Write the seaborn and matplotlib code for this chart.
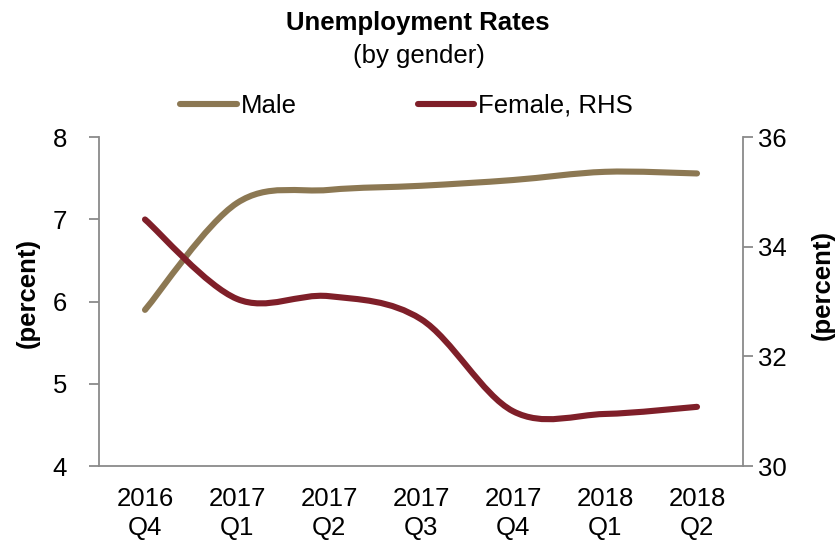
import numpy as np
import pandas as pd
import matplotlib
matplotlib.use("Agg")
import matplotlib.pyplot as plt
import seaborn as sns
from matplotlib.path import Path
from matplotlib.patches import PathPatch
from matplotlib.lines import Line2D

# ---- data ----
categories = ["2016\nQ4", "2017\nQ1", "2017\nQ2", "2017\nQ3", "2017\nQ4", "2018\nQ1", "2018\nQ2"]
male = [5.90, 7.20, 7.36, 7.41, 7.48, 7.58, 7.56]
female = [34.50, 33.05, 33.10, 32.68, 31.00, 30.95, 31.08]
left_ticks = [4, 5, 6, 7, 8]
right_ticks = [30, 32, 34, 36]

MALE_C = "#8C7853"
FEMALE_C = "#7F1F29"
AXIS_C = "#8A8A8A"
FS = 18.5

sns.set_theme(style="white")
plt.rcParams["font.family"] = ["Liberation Sans", "DejaVu Sans"]
plt.rcParams["text.color"] = "black"
plt.rcParams["xtick.labelcolor"] = "black"
plt.rcParams["ytick.labelcolor"] = "black"

df = pd.DataFrame({"cat": categories, "Male": male, "Female": female})
df["pos"] = np.arange(len(df))


def smooth_path(xs, ys):
    """Excel-like smoothed line: cubic Bezier segments through the data points."""
    xs = list(xs); ys = list(ys)
    n = len(xs)
    verts = [(xs[0], ys[0])]
    codes = [Path.MOVETO]
    for i in range(n - 1):
        i0 = max(i - 1, 0)
        i3 = min(i + 2, n - 1)
        c1 = (xs[i] + (xs[i + 1] - xs[i0]) / 6.0, ys[i] + (ys[i + 1] - ys[i0]) / 6.0)
        c2 = (xs[i + 1] - (xs[i3] - xs[i]) / 6.0, ys[i + 1] - (ys[i3] - ys[i]) / 6.0)
        verts += [c1, c2, (xs[i + 1], ys[i + 1])]
        codes += [Path.CURVE4, Path.CURVE4, Path.CURVE4]
    return Path(verts, codes)


fig = plt.figure(figsize=(8.4, 5.41), dpi=100)
ax = fig.add_axes([99 / 840, 1 - 466 / 541, (743 - 99) / 840, (466 - 137.3) / 541])
ax2 = ax.twinx()

p1 = PathPatch(smooth_path(df["pos"], df["Male"]), fill=False, edgecolor=MALE_C,
               lw=4.4, capstyle="round", joinstyle="round")
ax.add_patch(p1)
p2 = PathPatch(smooth_path(df["pos"], df["Female"]), fill=False, edgecolor=FEMALE_C,
               lw=4.4, capstyle="round", joinstyle="round")
ax2.add_patch(p2)

ax.set_xlim(-0.5, len(categories) - 0.5)
ax.set_ylim(4, 8)
ax2.set_ylim(30, 36)
ax.set_yticks(left_ticks)
ax2.set_yticks(right_ticks)
ax.set_yticklabels([str(t) for t in left_ticks], fontsize=FS)
ax2.set_yticklabels([str(t) for t in right_ticks], fontsize=FS)

ax.set_xticks(np.arange(len(categories) + 1) - 0.5)
ax.set_xticklabels([])
ax.set_xticks(np.arange(len(categories)), minor=True)
ax.set_xticklabels(categories, minor=True, fontsize=FS, linespacing=1.25)
ax.tick_params(axis="x", which="minor", length=0, pad=15, labelcolor="black")
ax.tick_params(axis="x", which="major", length=7, width=1.3, color=AXIS_C, direction="out")
ax.tick_params(axis="y", length=7, width=1.3, color=AXIS_C, direction="out", pad=16,
               left=True, labelcolor="black")
ax2.tick_params(axis="y", length=7, width=1.3, color=AXIS_C, direction="out", pad=4,
                right=True, labelcolor="black")

for a in (ax, ax2):
    a.grid(False)
    a.set_facecolor("none")
    a.spines["top"].set_visible(False)
    for s in ("left", "bottom", "right"):
        a.spines[s].set_color(AXIS_C)
        a.spines[s].set_linewidth(1.3)
ax.spines["right"].set_visible(False)
ax2.spines["left"].set_visible(False)
ax2.spines["bottom"].set_visible(False)
ax.set_ylabel("")
ax2.set_ylabel("")

fig.text(417.5 / 840, 1 - 23 / 541, "Unemployment Rates", fontsize=FS, fontweight="bold",
         ha="center", va="center", color="black")
fig.text(419 / 840, 1 - 56 / 541, "(by gender)", fontsize=FS, ha="center", va="center",
         color="black")
fig.text(28 / 840, 1 - 293 / 541, "(percent)", fontsize=FS, fontweight="bold",
         rotation=90, ha="center", va="center", color="black")
fig.text(823 / 840, 1 - 285 / 541, "(percent)", fontsize=FS, fontweight="bold",
         rotation=90, ha="center", va="center", color="black")

handles = [Line2D([0], [0], color=MALE_C, lw=4.4, solid_capstyle="round"),
           Line2D([0], [0], color=FEMALE_C, lw=4.4, solid_capstyle="round")]
leg = fig.legend(handles, ["Male", "Female, RHS"], loc="center",
                 bbox_to_anchor=(406.5 / 840, 1 - 106 / 541), ncol=2, frameon=False,
                 fontsize=FS, handlelength=2.2, handletextpad=0.15, columnspacing=4.7,
                 borderpad=0, borderaxespad=0)
for t in leg.get_texts():
    t.set_color("black")

fig.savefig("out.png", dpi=100)
